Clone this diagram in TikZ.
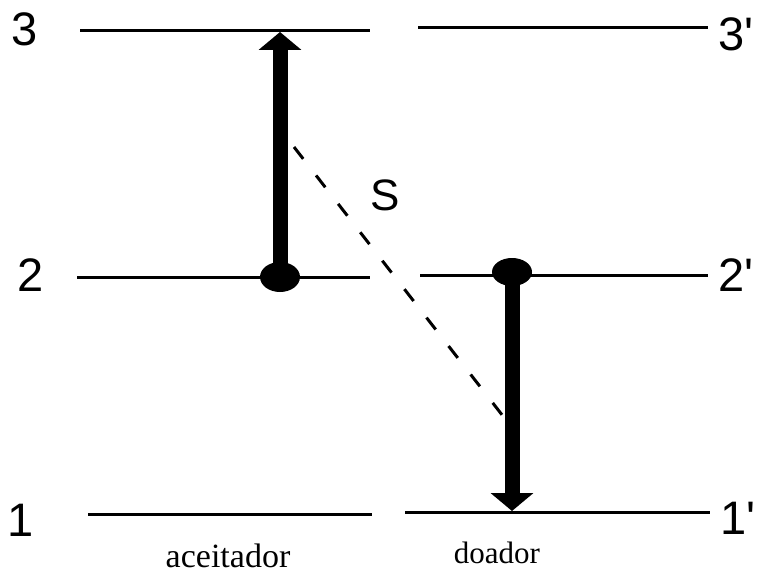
\documentclass[tikz,border=0pt]{standalone}
\usepackage{fontspec}
\setmainfont{Liberation Serif}
\newfontfamily\labfont{Liberation Sans}
\usetikzlibrary{arrows.meta}
\begin{document}
\begin{tikzpicture}[x=1pt,y=-1pt,
  level/.style={line width=3pt},
  trans/.style={line width=15pt,-{Triangle[width=42pt,length=18pt]}},
  num/.style={font=\labfont\fontsize{47}{47}\selectfont,inner sep=0pt},
  sidelbl/.style={font=\fontsize{31}{31}\selectfont,inner sep=0pt}]
\useasboundingbox (0,0) rectangle (769,578);
% levels
\coordinate (a3l) at (80,31); \coordinate (a3r) at (370,31);
\coordinate (d3l) at (418,28); \coordinate (d3r) at (708,28);
\coordinate (a2l) at (77,277); \coordinate (a2r) at (370,277);
\coordinate (d2l) at (420,275); \coordinate (d2r) at (708,275);
\coordinate (a1l) at (88,514); \coordinate (a1r) at (372,514);
\coordinate (d1l) at (405,512); \coordinate (d1r) at (710,512);
\draw[level] (a3l) -- (a3r);
\draw[level] (d3l) -- (d3r);
\draw[level] (a2l) -- (a2r);
\draw[level] (d2l) -- (d2r);
\draw[level] (a1l) -- (a1r);
\draw[level] (d1l) -- (d1r);
% labels
\node[num] (l3) at (25,29) {3};
\node[num] (l2) at (31,275) {2};
\node[num] (l1) at (21,520) {1};
\node[num] (r3) at (736,34) {3'};
\node[num] (r2) at (736,275) {2'};
\node[num] (r1) at (738,518) {1'};
\node[sidelbl,font=\fontsize{34}{34}\selectfont] (acc) at (228,556) {aceitador};
\node[sidelbl] (don) at (497,553) {doador};
\node[font=\labfont\fontsize{44}{44}\selectfont,inner sep=0pt] (S) at (385,195) {S};
% dots
\fill (280,277) ellipse [x radius=20pt,y radius=15pt];
\fill (512,272) ellipse [x radius=20pt,y radius=14pt];
\coordinate (aup) at (280,277); \coordinate (atop) at (280,32);
\coordinate (dtop) at (512,272); \coordinate (dbot) at (512,511);
\draw[trans] (aup) -- (atop);
\draw[trans] (dtop) -- (dbot);
% dashed
\coordinate (s1) at (294,147); \coordinate (s2) at (506,420);
\draw[line width=3pt,dash pattern=on 15pt off 21pt] (s1) -- (s2);
\end{tikzpicture}
\end{document}
